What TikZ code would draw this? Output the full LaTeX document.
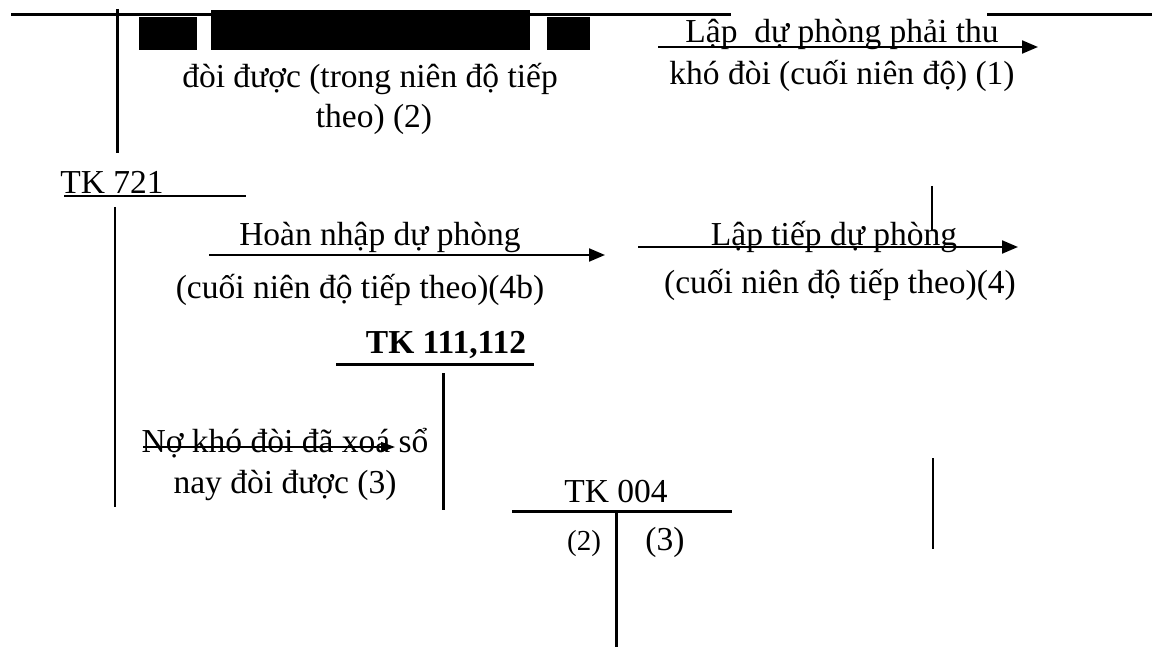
\documentclass[tikz,border=0pt]{standalone}
\usepackage{fontspec}
\setmainfont{Liberation Serif}
\usetikzlibrary{arrows.meta}

\begin{document}
\begin{tikzpicture}[x=0.5pt,y=-0.5pt,
  txt/.style={anchor=base,inner sep=0pt,font=\fontsize{16.75}{20}\selectfont},
  smalltxt/.style={anchor=base,inner sep=0pt,font=\fontsize{14.5}{17}\selectfont},
  heavy/.style={line width=1.5pt},
  rule/.style={line width=1pt},
  thin/.style={line width=0.7pt},
  arr/.style={line width=1pt,-{Triangle[length=8pt,width=6.5pt]}},
  smallarr/.style={line width=0.7pt,-{Triangle[length=7pt,width=5pt]}}]
\useasboundingbox (0,0) rectangle (1152,647);

% top account and the masked first line
\draw [heavy] (11,15) -- (731,15);
\draw [heavy] (987,15) -- (1152,15);
\draw [heavy] (117,9) -- (117,153);
\foreach \xa/\ya/\xb in {139/17/197, 211/10/530, 547/17/590}
  \fill (\xa,\ya) rectangle (\xb,50);
\node [txt] (l2a) at (370,88) {đòi được (trong niên độ tiếp};
\node [txt] (l2b) at (374,128) {theo) (2)};

% (1)
\coordinate (a1s) at (658,47);
\coordinate (a1e) at (1038,47);
\draw [arr] (a1s) -- (a1e);
\node [txt] (l1a) at (842,43) {Lập~~dự phòng phải thu};
\node [txt] (l1b) at (842,85) {khó đòi (cuối niên độ) (1)};

% TK 721
\node [txt,anchor=base west] (tk721) at (60,193) {TK 721};
\draw [rule] (64,196) -- (246,196);
\draw [thin] (115,207) -- (115,507);

% (4b) and (4)
\coordinate (a4bs) at (209,255);
\coordinate (a4be) at (605,255);
\draw [arr] (a4bs) -- (a4be);
\node [txt] (l4ba) at (380,245) {Hoàn nhập dự phòng};
\node [txt] (l4bb) at (360,298) {(cuối niên độ tiếp theo)(4b)};

\draw [thin] (932,186) -- (932,230);
\coordinate (a4s) at (638,247);
\coordinate (a4e) at (1018,247);
\draw [arr] (a4s) -- (a4e);
\node [txt] (l4a) at (834,245) {Lập tiếp dự phòng};
\node [txt] (l4b) at (840,293) {(cuối niên độ tiếp theo)(4)};

% TK 111,112
\node [txt] (tk111) at (446,353) {\bfseries TK 111,112};
\draw [heavy] (336,364) -- (534,364);
\draw [heavy] (443,373) -- (443,510);

% (3)
\coordinate (a3s) at (143,447);
\coordinate (a3e) at (395,447);
\draw [smallarr] (a3s) -- (a3e);
\node [txt] (l3a) at (285,452) {Nợ khó đòi đã xoá sổ};
\node [txt] (l3b) at (285,493) {nay đòi được (3)};

% TK 004
\node [txt] (tk004) at (616,502) {TK 004};
\draw [heavy] (512,511) -- (732,511);
\draw [heavy] (616,511) -- (616,647);
\node [smalltxt] (n2) at (584,550) {(2)};
\node [txt] (n3) at (665,550) {(3)};
\draw [thin] (933,458) -- (933,549);
\end{tikzpicture}
\end{document}
